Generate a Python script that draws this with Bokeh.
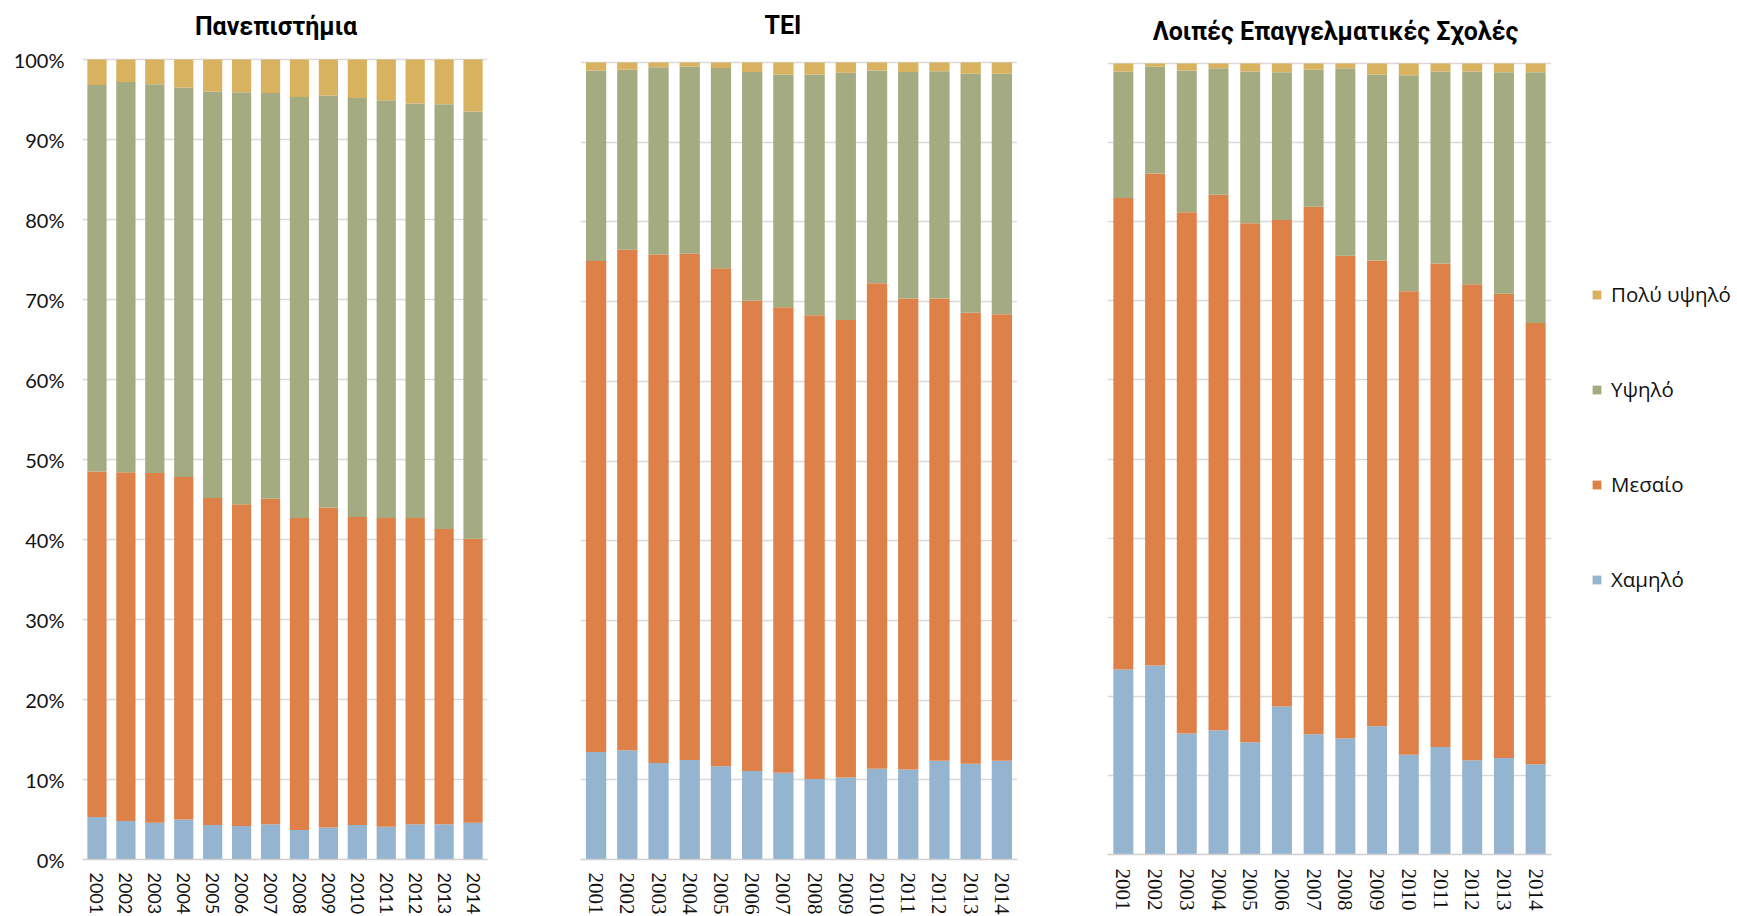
from bokeh.plotting import figure
from bokeh.layouts import row
from bokeh.models import (ColumnDataSource, FactorRange, Range1d, FixedTicker,
                          PrintfTickFormatter, Legend, LegendItem, Label)
from bokeh.embed import file_html
from bokeh.resources import INLINE

years = ["2001", "2002", "2003", "2004", "2005", "2006", "2007",
         "2008", "2009", "2010", "2011", "2012", "2013", "2014"]
levels = ["Χαμηλό", "Μεσαίο", "Υψηλό", "Πολύ υψηλό"]
colors = ["#95B4D0", "#DE8148", "#A5AB80", "#D9B260"]
pct_ticks = [0, 10, 20, 30, 40, 50, 60, 70, 80, 90, 100]
titles = ["Πανεπιστήμια", "ΤΕΙ", "Λοιπές Επαγγελματικές Σχολές"]

# Πανεπιστήμια
uni_low = [5.3, 4.8, 4.6, 5.0, 4.3, 4.2, 4.4, 3.7, 4.0, 4.3, 4.1, 4.4, 4.4, 4.6]
uni_mid = [43.2, 43.6, 43.7, 42.8, 40.9, 40.2, 40.7, 39.0, 40.0, 38.5, 38.6, 38.3, 36.9, 35.5]
uni_high = [48.3, 48.8, 48.6, 48.7, 50.8, 51.5, 50.7, 52.6, 51.5, 52.4, 52.2, 51.8, 53.1, 53.4]
uni_vhigh = [3.2, 2.8, 3.1, 3.5, 4.0, 4.1, 4.2, 4.7, 4.5, 4.8, 5.1, 5.5, 5.6, 6.5]

# ΤΕΙ
tei_low = [13.5, 13.7, 12.1, 12.5, 11.7, 11.1, 10.9, 10.1, 10.3, 11.4, 11.3, 12.4, 12.0, 12.4]
tei_mid = [61.6, 62.8, 63.8, 63.5, 62.5, 59.0, 58.4, 58.2, 57.4, 60.9, 59.1, 58.0, 56.6, 56.0]
tei_high = [23.9, 22.6, 23.5, 23.5, 25.1, 28.7, 29.2, 30.2, 31.0, 26.7, 28.4, 28.5, 30.0, 30.2]
tei_vhigh = [1.0, 0.9, 0.6, 0.5, 0.7, 1.2, 1.5, 1.5, 1.3, 1.0, 1.2, 1.1, 1.4, 1.4]

# Λοιπές Επαγγελματικές Σχολές
oth_low = [23.4, 23.9, 15.3, 15.7, 14.2, 18.7, 15.2, 14.7, 16.2, 12.6, 13.6, 11.9, 12.2, 11.4]
oth_mid = [59.6, 62.2, 65.9, 67.7, 65.6, 61.5, 66.7, 61.0, 58.9, 58.6, 61.1, 60.2, 58.7, 55.8]
oth_high = [16.0, 13.5, 17.9, 16.0, 19.2, 18.7, 17.3, 23.7, 23.5, 27.3, 24.3, 26.9, 28.0, 31.7]
oth_vhigh = [1.0, 0.4, 0.9, 0.6, 1.0, 1.1, 0.8, 0.6, 1.4, 1.5, 1.0, 1.0, 1.1, 1.1]


def make_panel(title, low, mid, high, vhigh, left, fw, right, top_px, plot_px,
               bottom, bar_w, show_y, year_font, year_size, year_standoff,
               title_dx, title_base):
    src = ColumnDataSource(dict(year=years, low=low, mid=mid, high=high, vhigh=vhigh))
    ppu = plot_px / 100.0
    y_end = 100 + top_px / ppu
    p = figure(x_range=FactorRange(*years), y_range=Range1d(0, y_end),
               frame_width=fw, frame_height=top_px + plot_px,
               min_border_left=left, min_border_right=right,
               min_border_top=0, min_border_bottom=bottom,
               output_backend="svg", toolbar_location=None, tools="")
    p.outline_line_color = None
    p.background_fill_color = "white"
    p.border_fill_color = "white"

    rs = p.vbar_stack(["low", "mid", "high", "vhigh"], x="year", width=bar_w,
                      color=colors, line_color=None, source=src)

    p.add_layout(Label(x=len(years) / 2, y=100 + (top_px - title_base) / ppu,
                       x_offset=title_dx, text=title, text_align="center",
                       text_baseline="alphabetic", text_font="Roboto",
                       text_font_style="bold", text_font_size="25px",
                       text_color="#000000"))

    p.xgrid.grid_line_color = None
    p.ygrid.ticker = FixedTicker(ticks=pct_ticks)
    p.ygrid.grid_line_color = "#d9d9d9"
    p.ygrid.grid_line_width = 1.3

    xa = p.xaxis[0]
    xa.major_label_orientation = "vertical"
    xa.major_tick_line_color = None
    xa.minor_tick_line_color = None
    xa.major_tick_out = 0
    xa.major_tick_in = 0
    xa.axis_line_color = "#d0d0d0"
    xa.axis_line_width = 1.5
    xa.major_label_standoff = year_standoff
    xa.major_label_text_font = year_font
    xa.major_label_text_font_size = year_size
    xa.major_label_text_color = "#111111"

    ya = p.yaxis[0]
    ya.ticker = FixedTicker(ticks=pct_ticks)
    ya.formatter = PrintfTickFormatter(format="%d%%")
    if show_y:
        ya.axis_line_color = None
        ya.major_tick_line_color = None
        ya.minor_tick_line_color = None
        ya.major_tick_out = 0
        ya.major_tick_in = 0
        ya.major_label_standoff = 18
        ya.major_label_text_font = "Lato"
        ya.major_label_text_font_size = "20px"
        ya.major_label_text_color = "#111111"
    else:
        ya.visible = False
    return p, rs


p1, _ = make_panel(titles[0], uni_low, uni_mid, uni_high, uni_vhigh,
                   82, 405, 43, 59, 800, 56, 0.665, True, "Lato", "18px", 13,
                   -9, 26)
p2, _ = make_panel(titles[1], tei_low, tei_mid, tei_high, tei_vhigh,
                   50, 437, 43, 62, 797, 56, 0.65, False,
                   "Liberation Sans Narrow", "21px", 13, -16, 25)
p3, rs3 = make_panel(titles[2], oth_low, oth_mid, oth_high, oth_vhigh,
                     47, 444, 185, 63, 791, 61, 0.63, False,
                     "Liberation Sans Narrow", "21px", 14, 6, 31)

items = [LegendItem(label=levels[i], renderers=[rs3[i]]) for i in [3, 2, 1, 0]]
legend = Legend(items=items, location=(40, 261), margin=0, padding=0,
                border_line_color=None, background_fill_alpha=0,
                glyph_width=11, glyph_height=11, label_standoff=9,
                spacing=67, label_height=28,
                label_text_font="Open Sans", label_text_font_size="20.5px",
                label_text_color="#111111")
p3.add_layout(legend, "right")

layout = row(p1, p2, p3)
open("out.html", "w").write(file_html(layout, INLINE))
